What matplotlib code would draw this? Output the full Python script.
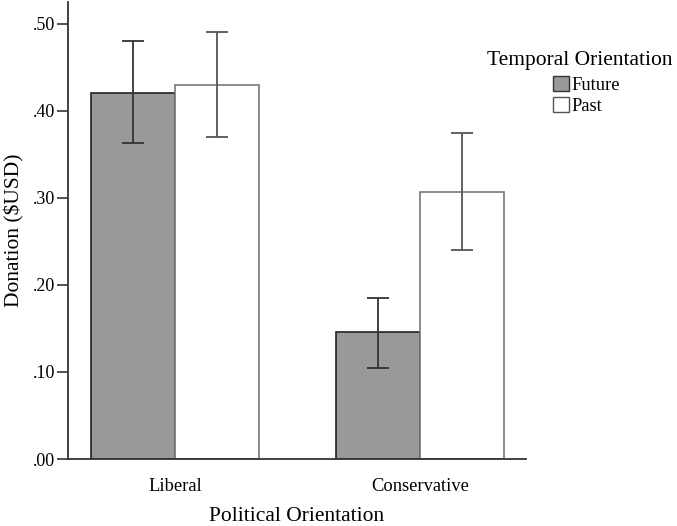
import numpy as np
import matplotlib.pyplot as plt
from matplotlib.ticker import FuncFormatter
from matplotlib.patches import Patch

# values
groups = ["Liberal", "Conservative"]
future_mean = [0.421, 0.146]
future_low = [0.363, 0.105]
future_high = [0.480, 0.185]
past_mean = [0.430, 0.307]
past_low = [0.370, 0.240]
past_high = [0.491, 0.374]

plt.rcParams['font.family'] = ['Liberation Serif', 'DejaVu Serif']

fig = plt.figure(figsize=(6.77, 5.26), dpi=100)
ax = fig.add_axes([68/677, 1 - 459/526, (526-68)/677, (459-2)/526])

x = np.arange(len(groups))
w = 0.343
err_f = [np.array(future_mean) - np.array(future_low), np.array(future_high) - np.array(future_mean)]
err_p = [np.array(past_mean) - np.array(past_low), np.array(past_high) - np.array(past_mean)]

ax.bar(x - w/2, future_mean, w, color='#999999', edgecolor='#222222', linewidth=1.2)
ax.bar(x + w/2, past_mean, w, color='white', edgecolor='#777777', linewidth=1.2)
ax.errorbar(x - w/2, future_mean, yerr=err_f, fmt='none', ecolor='#333333',
            elinewidth=1.3, capsize=8, capthick=1.3)
ax.errorbar(x + w/2, past_mean, yerr=err_p, fmt='none', ecolor='#555555',
            elinewidth=1.3, capsize=8, capthick=1.3)

ax.set_xlim(-0.437, 1.433)
ax.set_ylim(0, 0.525)
ax.set_yticks([0, 0.1, 0.2, 0.3, 0.4, 0.5])
ax.yaxis.set_major_formatter(FuncFormatter(lambda v, p: ("%.2f" % v)[1:]))
ax.set_xticks(x)
ax.set_xticklabels(groups)
ax.tick_params(axis='x', length=0, labelsize=13.3, pad=14)
ax.tick_params(axis='y', length=8, width=1.2, labelsize=13, color='#333333', pad=1)
for s in ['top', 'right']:
    ax.spines[s].set_visible(False)
for s in ['left', 'bottom']:
    ax.spines[s].set_linewidth(1.3)
    ax.spines[s].set_color('#333333')

ax.set_ylabel("Donation ($USD)", fontsize=15.5, labelpad=6)
ax.set_xlabel("Political Orientation", fontsize=15.5, labelpad=8)

fig.text(580/677, 1 - 60/526, "Temporal Orientation", fontsize=15.5, ha='center', va='center')
handles = [Patch(facecolor='#999999', edgecolor='#333333', label='Future'),
           Patch(facecolor='white', edgecolor='#555555', label='Past')]
fig.legend(handles=handles, loc='upper left', bbox_to_anchor=(549/677, 1 - 72/526),
           frameon=False, fontsize=13.3, handlelength=0.9, handleheight=0.9,
           handletextpad=0.1, labelspacing=0.15, borderpad=0.2, borderaxespad=0)

fig.savefig("out.png", dpi=100)
